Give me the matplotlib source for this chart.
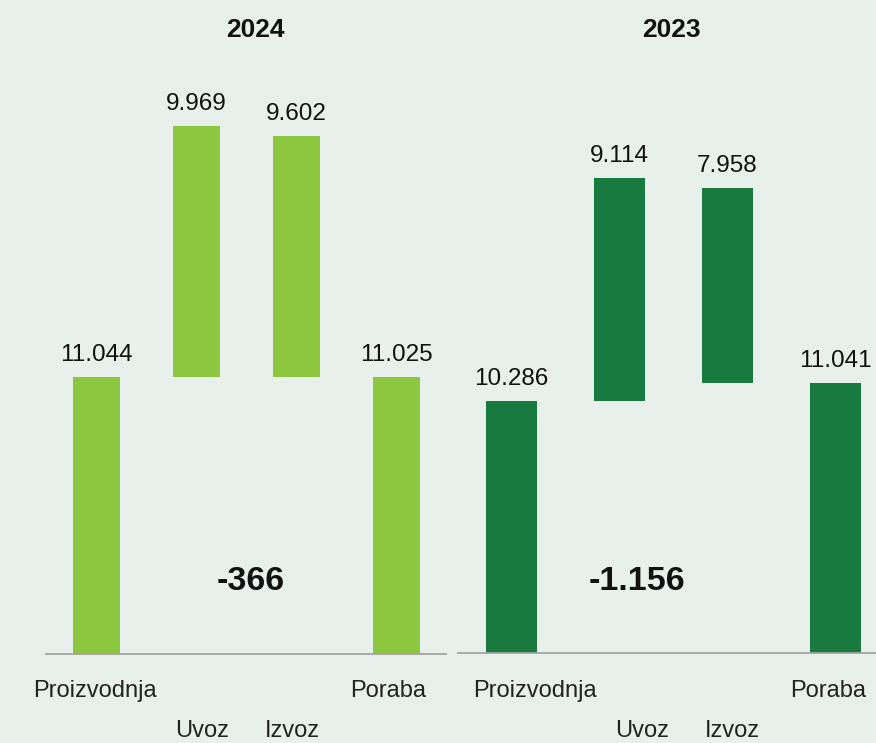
import matplotlib
matplotlib.use("Agg")
import matplotlib.pyplot as plt

plt.rcParams["font.family"] = ["Liberation Sans", "DejaVu Sans"]

bg = "#e7f0eb"
light_green = "#8dc63f"
dark_green = "#187a3f"

categories = ["Proizvodnja", "Uvoz", "Izvoz", "Poraba"]
years = ["2024", "2023"]

# energy balance values (GWh), thousands separator is a dot in the labels
proizvodnja = [11044, 10286]
uvoz = [9969, 9114]
izvoz = [9602, 7958]
poraba = [11025, 11041]
net_labels = ["-366", "-1.156"]


def fmt(v):
    return f"{v:,}".replace(",", ".")


W, H = 876, 743
fig = plt.figure(figsize=(W / 100, H / 100), dpi=100, facecolor=bg)

# panel geometry in pixels: left, right, baseline, px per unit
panels = [
    dict(left=46, width=400, base=654, scale=0.02512, color=light_green, shift=0, net_x=251),
    dict(left=457.5, width=432, base=653, scale=0.02448, color=dark_green, shift=440, net_x=637),
]
label_px = [95, 202, 292, 388]
label_py = [691, 731, 731, 691]

for i, p in enumerate(panels):
    ax = fig.add_axes([p["left"] / W, (H - p["base"]) / H, p["width"] / W, p["base"] / H])
    ax.set_facecolor("none")
    ax.set_xlim(-0.5, 3.5)
    ax.set_ylim(0, p["base"] / p["scale"])

    prod, imp, exp, cons = proizvodnja[i], uvoz[i], izvoz[i], poraba[i]
    bottoms = [0, prod, cons, 0]
    heights = [prod, imp, exp, cons]
    ax.bar(range(4), heights, bottom=bottoms, width=0.47, color=p["color"], clip_on=False)

    for x, (b, h) in enumerate(zip(bottoms, heights)):
        ax.annotate(fmt(h), (x, b + h), xytext=(0, 11.5), textcoords="offset points",
                    ha="center", va="baseline", fontsize=17.5, color="#111111")

    for s in ["top", "right", "left"]:
        ax.spines[s].set_visible(False)
    ax.spines["bottom"].set_color("#a3a3a3")
    ax.spines["bottom"].set_linewidth(1.3)
    ax.set_xticks([])
    ax.set_yticks([])

    for name, lx, ly in zip(categories, label_px, label_py):
        fig.text((lx + p["shift"]) / W, 1 - ly / H, name, ha="center", va="center",
                 fontsize=17, color="#222222")

    fig.text(p["net_x"] / W, 1 - 581 / H, net_labels[i], ha="center", va="center",
             fontsize=24.5, fontweight="bold", color="#111111")

fig.text(255 / W, 1 - 30 / H, years[0], ha="center", va="center",
         fontsize=19, fontweight="bold", color="#111111")
fig.text(671 / W, 1 - 30 / H, years[1], ha="center", va="center",
         fontsize=19, fontweight="bold", color="#111111")

fig.savefig("out.png", dpi=100, facecolor=bg)
